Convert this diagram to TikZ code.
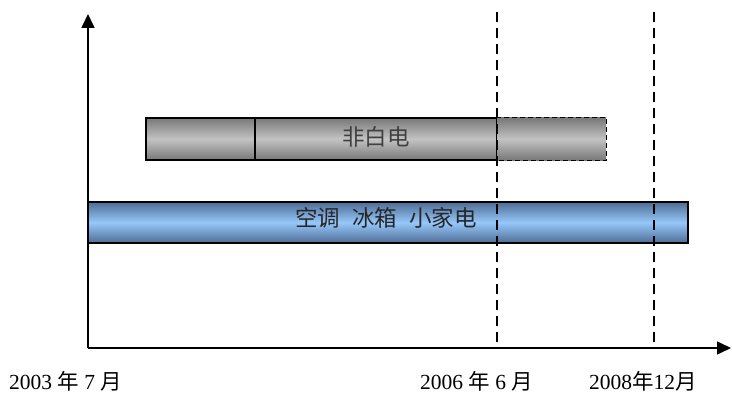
\documentclass[tikz,border=0pt]{standalone}
\usepackage{fontspec}
\setmainfont{Liberation Serif}
\newfontfamily\cjk{Noto Sans CJK SC}
\usetikzlibrary{arrows.meta}
\definecolor{blueedge}{RGB}{78,108,148}
\definecolor{bluemid}{RGB}{150,200,250}
\definecolor{grayedge}{RGB}{120,120,120}
\definecolor{graymid}{RGB}{195,195,195}
\begin{document}
\begin{tikzpicture}[x=1pt,y=-1pt,
  axis/.style={line width=1.6pt,-{Triangle[length=14pt,width=13pt]}},
  vdash/.style={line width=1.8pt,dash pattern=on 10pt off 6pt},
  graybar/.style={draw=black,line width=1.2pt,top color=grayedge,bottom color=grayedge,middle color=graymid},
  bluebar/.style={draw=black,line width=1.2pt,top color=blueedge,bottom color=blueedge,middle color=bluemid},
  lbl/.style={font=\fontsize{21.5}{24}\selectfont,anchor=west,inner sep=0pt}]
\useasboundingbox (0,0) rectangle (732,412);
% axes
\coordinate (O) at (88,348);
\coordinate (Ytip) at (88,14);
\coordinate (Xtip) at (731,348);
% bars
\node[bluebar,minimum width=600pt,minimum height=41pt,inner sep=0pt] (blue) at (388,222.5) {};
\node[graybar,minimum width=109pt,minimum height=42pt,inner sep=0pt] (g1) at (200.5,139) {};
\node[graybar,minimum width=242pt,minimum height=42pt,inner sep=0pt] (g2) at (376,139) {};
\node[graybar,draw=none,minimum width=109pt,minimum height=42pt,inner sep=0pt] (g3) at (551.5,139) {};
\draw[line width=1.4pt,dash pattern=on 5pt off 3pt] (g3.north west) -- (g3.north east) -- (g3.south east) -- (g3.south west);
\node[font=\cjk\fontsize{22.5}{24}\selectfont,text=black!75] (t1) at (376,137) {非白电};
\node[font=\cjk\fontsize{22.5}{24}\selectfont,text=black!85] (t2) at (386,218) {空调\hspace{12pt}冰箱\hspace{12pt}小家电};
% dashed vertical lines
\coordinate (d1t) at (497,12);
\coordinate (d1b) at (497,348);
\coordinate (d2t) at (654,12);
\coordinate (d2b) at (654,348);
\draw[vdash] (d1t) -- (d1b);
\draw[vdash] (d2t) -- (d2b);
\draw[axis] (O) -- (Ytip);
\draw[axis] (O) -- (Xtip);
% labels
\node[lbl] (l1) at (9,381) {2003 {\cjk 年} 7 {\cjk 月}};
\node[lbl] (l2) at (420,381) {2006 {\cjk 年} 6 {\cjk 月}};
\node[lbl] (l3) at (589,381) {2008{\cjk 年}12{\cjk 月}};
\end{tikzpicture}
\end{document}
